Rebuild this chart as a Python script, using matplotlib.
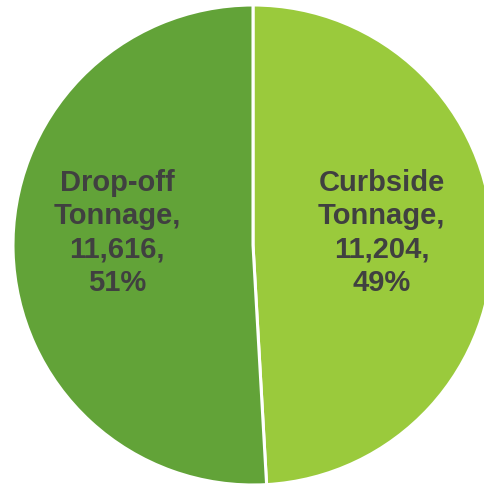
import matplotlib.pyplot as plt

# Tonnage split by collection method
categories = ['Curbside', 'Drop-off']
tonnage = [11204, 11616]
colors = ['#9aca3c', '#62a338']

plt.rcParams['font.family'] = ['Liberation Sans', 'DejaVu Sans']

fig = plt.figure(figsize=(4.84, 4.86), dpi=100)
# axes box sized so the pie fills the frame (runs slightly off the right edge)
ax = fig.add_axes([13 / 484, 1 / 486, 480 / 484, 480 / 486])

wedges, _ = ax.pie(tonnage, colors=colors, startangle=90, counterclock=False,
                   radius=1, wedgeprops=dict(edgecolor='white', linewidth=2.2))
ax.set_xlim(-1, 1)
ax.set_ylim(-1, 1)
ax.axis('off')

total = sum(tonnage)
label_pos = {'Curbside': (0.535, 0.05), 'Drop-off': (-0.567, 0.05)}
for name, val in zip(categories, tonnage):
    pct = round(val / total * 100)
    txt = f'{name}\nTonnage,\n{val:,},\n{pct}%'
    x, y = label_pos[name]
    ax.text(x, y, txt, ha='center', va='center', multialignment='center',
            fontsize=21, fontweight='bold', color='#404040', linespacing=1.24)

fig.savefig('out.png', dpi=100)
